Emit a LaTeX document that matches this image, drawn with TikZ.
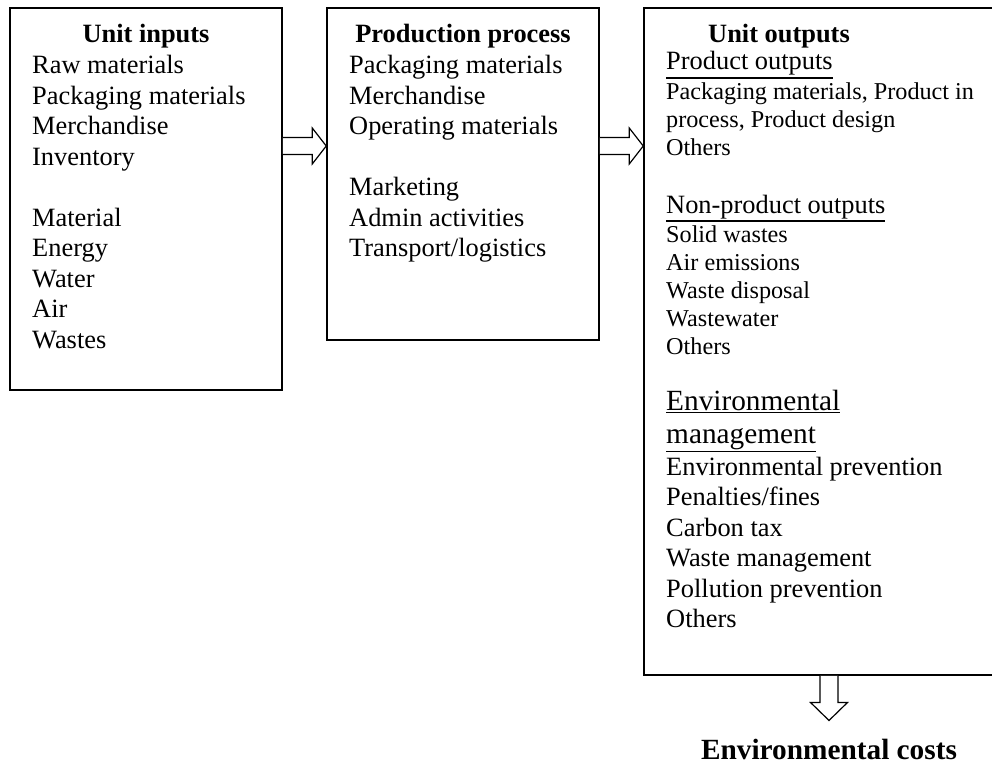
\documentclass[tikz,border=0pt]{standalone}
\usepackage{fontspec}
\setmainfont{Liberation Serif}
\usetikzlibrary{calc}

% underline with a rule of fixed weight, set below the text's depth
\newcommand\ulx[1]{\leavevmode\setbox0\hbox{#1}\rlap{\rule[-\dimexpr\dp0+3pt\relax]{\wd0}{1.3pt}}\box0}
% left-aligned list whose reference point is the first line's baseline
\newcommand\lst[1]{\parbox[t]{330pt}{\raggedright #1}}
\newcommand\szmain{\fontsize{26.4}{30.5}\selectfont}
\newcommand\szsmall{\fontsize{24.2}{28}\selectfont}
\newcommand\szbig{\fontsize{29.3}{33}\selectfont}

\tikzset{
  box/.style={draw, line width=1.5pt, inner sep=0pt},
  title/.style={anchor=base, inner sep=0pt, font=\szmain\bfseries},
  items/.style={anchor=base west, inner sep=0pt},
  harrow/.style={draw, line width=1.2pt, fill=white, line join=miter},
}

% hollow block arrow pointing right: start, tip
\newcommand\rightarrowblock[2]{%
  \draw[harrow] ($(#1)+(0,-8.5)$) -- ($(#2)+(-14,-8.5)$) -- ($(#2)+(-14,-18)$)
    -- (#2) -- ($(#2)+(-14,18)$) -- ($(#2)+(-14,8.5)$) -- ($(#1)+(0,8.5)$);}
% hollow block arrow pointing down: start, tip
\newcommand\downarrowblock[2]{%
  \draw[harrow] ($(#1)+(-9,0)$) -- ($(#2)+(-9,-18)$) -- ($(#2)+(-18.5,-18)$)
    -- (#2) -- ($(#2)+(18.5,-18)$) -- ($(#2)+(9,-18)$) -- ($(#1)+(9,0)$);}

\begin{document}
\begin{tikzpicture}[x=1pt, y=-1pt]
\useasboundingbox (0,0) rectangle (992,762);
\clip (0,0) rectangle (992,762);

% the three boxes
\node[box, minimum width=272pt, minimum height=382pt] (inbox) at (146,199) {};
\node[box, minimum width=272pt, minimum height=332pt] (prod) at (463,174) {};
\node[box, minimum width=380pt, minimum height=667pt] (outbox) at (834,341.5) {};

% unit inputs
\node[title] (intitle) at (146,43) {Unit inputs};
\node[items, font=\szmain] (inlist) at (32,74) {\lst{Raw materials\\ Packaging materials\\ Merchandise\\ Inventory\\[30.5pt]
  Material\\ Energy\\ Water\\ Air\\ Wastes}};

% production process
\node[title] (prodtitle) at (463,43) {Production process};
\node[items, font=\szmain] (prodlist) at (349,74) {\lst{Packaging materials\\ Merchandise\\ Operating materials\\[30.5pt]
  Marketing\\ Admin activities\\ Transport/logistics}};

% unit outputs
\node[title] (outtitle) at (779,43) {Unit outputs};
\node[items, font=\szmain] (prodhead) at (666,70) {\ulx{Product outputs}};
\node[items, font=\szsmall] (prodout) at (666,100) {\lst{Packaging materials, Product in\\ process, Product design\\ Others}};
\node[items, font=\szmain] (nonhead) at (666,213) {\ulx{Non-product outputs}};
\node[items, font=\szsmall] (nonout) at (666,242) {\lst{Solid wastes\\ Air emissions\\ Waste disposal\\ Wastewater\\ Others}};
\node[items, font=\szbig] (envhead) at (666,410) {\lst{\ulx{Environmental}\\ \ulx{management}}};
\node[items, font=\szmain] (envout) at (666,475) {\lst{Environmental prevention\\ Penalties/fines\\ Carbon tax\\ Waste management\\ Pollution prevention\\ Others}};

% result
\node[anchor=base, inner sep=0pt, font=\szbig\bfseries] (costs) at (829,759) {Environmental costs};

% connectors
\coordinate (a1s) at (inbox.east |- 0,146);
\coordinate (a1e) at (prod.west |- 0,146);
\rightarrowblock{a1s}{a1e}
\coordinate (a2s) at (prod.east |- 0,146);
\coordinate (a2e) at (outbox.west |- 0,146);
\rightarrowblock{a2s}{a2e}
\coordinate (a3s) at (829,0 |- outbox.south);
\coordinate (a3e) at ($(costs.north)+(0,-18)$);
\downarrowblock{a3s}{a3e}
\end{tikzpicture}
\end{document}
